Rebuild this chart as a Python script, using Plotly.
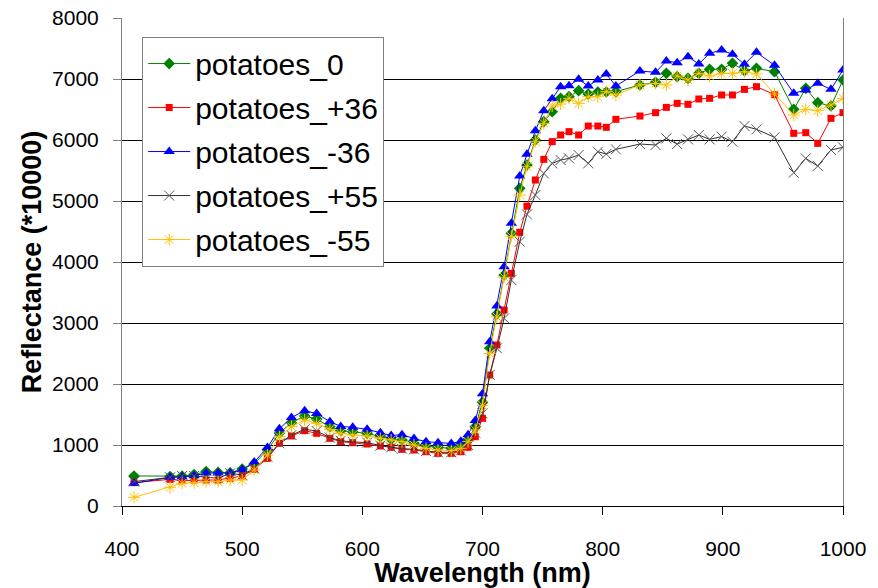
import plotly.graph_objects as go

wavelength = [410, 440, 450, 460, 470, 480, 490, 500, 510, 521, 531, 541, 552, 562, 573, 582, 592, 604, 615, 624,
              633, 643, 653, 663, 674, 682, 688, 694, 700, 706, 712, 718, 724, 731, 737, 744, 751, 758, 765, 772,
              780, 788, 796, 803, 811, 831, 844, 853, 862, 871, 880, 889, 899, 908, 918, 928, 943, 959, 969, 979,
              990, 1000]

potatoes_0 = [492, 482, 490, 515, 565, 550, 545, 605, 690, 920, 1195, 1365, 1475, 1425, 1300, 1235, 1219, 1191, 1136, 1093,
              1082, 1027, 984, 962, 945, 1000, 1082, 1300, 1700, 2585, 3148, 3787, 4470, 5208, 5590, 6000, 6300, 6464, 6683, 6710,
              6809, 6754, 6787, 6787, 6793, 6902, 6945, 7093, 7038, 7011, 7093, 7159, 7159, 7257, 7137, 7175, 7120, 6503, 6847, 6612,
              6557, 6984]

potatoes_p36 = [383, 437, 415, 426, 426, 426, 454, 492, 601, 781, 1027, 1148, 1235, 1191, 1109, 1055, 1038, 1016, 984, 962,
                929, 918, 890, 863, 863, 890, 962, 1136, 1437, 2148, 2639, 3213, 3814, 4486, 4915, 5344, 5683, 5973, 6082, 6137,
                6082, 6229, 6229, 6208, 6339, 6393, 6448, 6535, 6601, 6585, 6672, 6683, 6738, 6738, 6830, 6874, 6743, 6109, 6120, 5945,
                6355, 6448]

potatoes_m36 = [372, 470, 475, 495, 540, 540, 540, 595, 720, 960, 1265, 1450, 1563, 1515, 1383, 1305, 1290, 1257, 1202, 1155,
                1170, 1105, 1055, 1035, 1025, 1060, 1170, 1400, 1840, 2694, 3279, 3923, 4634, 5410, 5765, 6153, 6481, 6678, 6874, 6891,
                6995, 6885, 6984, 7082, 6885, 7131, 7109, 7295, 7268, 7366, 7246, 7421, 7475, 7404, 7240, 7437, 7224, 6765, 6820, 6930,
                6830, 7147]

potatoes_p55 = [400, 470, 492, 492, 470, 454, 536, 508, 617, 808, 1027, 1164, 1257, 1230, 1120, 1070, 1050, 1040, 990, 960,
                940, 930, 900, 880, 880, 910, 1000, 1200, 1519, 2150, 2585, 3076, 3705, 4333, 4780, 5098, 5453, 5617, 5672, 5699,
                5754, 5617, 5808, 5770, 5847, 5934, 5918, 6027, 5934, 6011, 6082, 6011, 6055, 5973, 6229, 6175, 6044, 5464, 5699, 5574,
                5836, 5880]

potatoes_m55 = [142, 306, 372, 383, 399, 399, 426, 426, 590, 836, 1136, 1300, 1410, 1355, 1257, 1191, 1164, 1148, 1109, 1082,
                1055, 1000, 945, 918, 907, 945, 1055, 1246, 1650, 2500, 3100, 3750, 4420, 5098, 5563, 5973, 6273, 6557, 6590, 6683,
                6601, 6710, 6710, 6793, 6738, 6902, 6929, 6902, 7049, 6984, 7093, 7049, 7093, 7093, 7120, 7082, 6754, 6410, 6503, 6481,
                6574, 6683]

series_names = ["potatoes_0", "potatoes_+36", "potatoes_-36", "potatoes_+55", "potatoes_-55"]
series_values = [potatoes_0, potatoes_p36, potatoes_m36, potatoes_p55, potatoes_m55]

styles = [
    dict(line="#008000", marker=dict(symbol="diamond", size=9, color="#008000")),
    dict(line="#FF0000", marker=dict(symbol="square", size=7, color="#FF0000")),
    dict(line="#0000FF", marker=dict(symbol="triangle-up", size=10, color="#0000FF")),
    dict(line="#303030", marker=dict(symbol="x-thin", size=10, color="#555555",
                                      line=dict(color="#555555", width=1))),
    dict(line="#FFC000", marker=dict(symbol="asterisk", size=10, color="#FFC000",
                                      line=dict(color="#FFC000", width=1))),
]

FONT = "Arial, Liberation Sans, sans-serif"

fig = go.Figure()
for i, (name, vals, st) in enumerate(zip(series_names, series_values, styles)):
    fig.add_trace(go.Scatter(
        x=wavelength, y=vals, name=name, mode="lines+markers",
        line=dict(color=st["line"], width=1),
        marker=st["marker"],
        legendgroup="g%d" % i,
    ))

fig.update_layout(
    width=878, height=588,
    margin=dict(l=122, r=35, t=18, b=82),
    paper_bgcolor="white", plot_bgcolor="white",
    font=dict(family=FONT, color="black"),
    showlegend=True,
    legend=dict(
        x=0.028, y=0.962, xanchor="left", yanchor="top",
        bgcolor="white", bordercolor="#808080", borderwidth=1,
        font=dict(size=30, family=FONT, color="black"),
        itemwidth=42,
        tracegroupgap=2,
    ),
    xaxis=dict(
        range=[400, 1000], dtick=100, tick0=400,
        showgrid=False, zeroline=False, automargin=False,
        showline=True, linecolor="#000000", linewidth=1,
        ticks="outside", ticklen=8, tickcolor="#000000",
        tickfont=dict(size=21, family=FONT),
        ticklabelstandoff=16,
        title=dict(text="<b>Wavelength (nm)</b>", font=dict(size=27, family=FONT), standoff=7),
    ),
    yaxis=dict(
        range=[0, 8000], dtick=1000, tick0=0,
        showgrid=True, gridcolor="#000000", gridwidth=1,
        zeroline=False, automargin=False,
        showline=True, linecolor="#808080", linewidth=1, mirror=True,
        ticks="outside", ticklen=8, tickcolor="#808080",
        tickfont=dict(size=21, family=FONT),
        ticklabelstandoff=10,
        title=dict(text="<b>Reflectance (*10000)</b>", font=dict(size=27, family=FONT), standoff=2),
    ),
)

fig.write_html("out.html")
